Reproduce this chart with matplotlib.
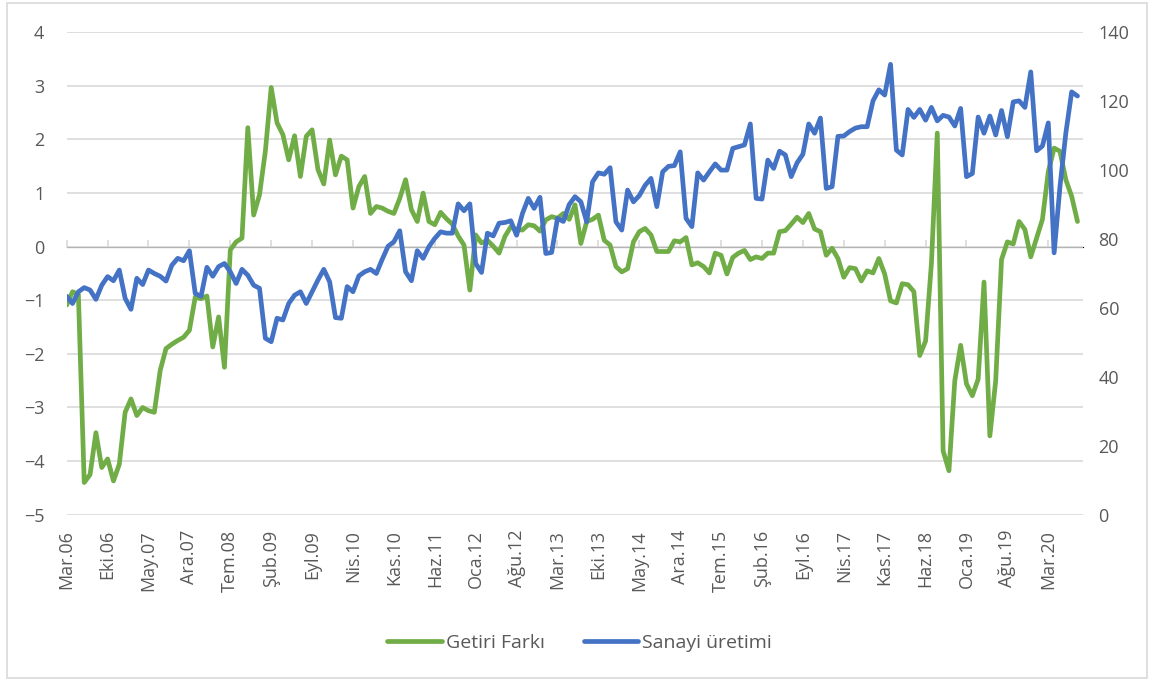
import numpy as np
import matplotlib.pyplot as plt
from matplotlib.patches import Rectangle

plt.rcParams['font.family'] = ['Open Sans', 'DejaVu Sans']

# aylik seriler, Mar.06'dan itibaren
getiri_farki = [
    -1.09, -0.84, -0.89, -4.40, -4.25, -3.47, -4.12, -3.96, -4.37, -4.06,
    -3.09, -2.84, -3.15, -3.00, -3.06, -3.09, -2.31, -1.90, -1.82, -1.75,
    -1.69, -1.56, -0.94, -0.97, -0.92, -1.87, -1.31, -2.25, -0.06, 0.09,
    0.16, 2.22, 0.59, 0.97, 1.78, 2.97, 2.31, 2.09, 1.62, 2.07,
    1.31, 2.06, 2.18, 1.44, 1.17, 1.99, 1.34, 1.69, 1.62, 0.72,
    1.12, 1.31, 0.62, 0.75, 0.72, 0.66, 0.62, 0.90, 1.25, 0.69,
    0.47, 1.00, 0.47, 0.41, 0.64, 0.52, 0.42, 0.20, 0.03, -0.81,
    0.22, 0.07, 0.12, 0.01, -0.12, 0.19, 0.37, 0.32, 0.31, 0.41,
    0.39, 0.29, 0.50, 0.56, 0.53, 0.62, 0.51, 0.78, 0.06, 0.47,
    0.51, 0.59, 0.12, 0.03, -0.37, -0.47, -0.41, 0.09, 0.28, 0.34,
    0.22, -0.09, -0.09, -0.09, 0.11, 0.09, 0.17, -0.34, -0.30, -0.37,
    -0.49, -0.12, -0.16, -0.51, -0.20, -0.12, -0.07, -0.24, -0.19, -0.22,
    -0.12, -0.12, 0.28, 0.30, 0.42, 0.55, 0.45, 0.62, 0.33, 0.28,
    -0.16, -0.03, -0.22, -0.57, -0.39, -0.41, -0.64, -0.45, -0.49, -0.22,
    -0.51, -1.01, -1.05, -0.69, -0.71, -0.84, -2.03, -1.76, -0.31, 2.12,
    -3.81, -4.18, -2.50, -1.84, -2.56, -2.78, -2.47, -0.66, -3.53, -2.50,
    -0.24, 0.09, 0.05, 0.47, 0.32, -0.19, 0.16, 0.51, 1.40, 1.84,
    1.78, 1.25, 0.94, 0.47,
]

sanayi_uretimi = [
    63.4, 61.3, 64.7, 65.9, 65.2, 62.5, 66.6, 69.1, 67.9, 71.0,
    62.8, 59.6, 68.6, 66.8, 71.0, 70.0, 69.2, 67.8, 72.4, 74.4,
    73.7, 76.6, 64.2, 63.4, 71.8, 69.2, 72.0, 72.9, 70.5, 67.1,
    71.2, 69.5, 66.6, 65.7, 51.2, 50.2, 57.0, 56.5, 61.3, 63.7,
    64.7, 61.3, 64.7, 68.1, 71.2, 67.6, 57.2, 57.0, 66.2, 64.7,
    69.3, 70.5, 71.2, 70.0, 74.1, 77.9, 79.2, 82.4, 70.5, 67.9,
    76.6, 74.4, 77.8, 80.2, 82.1, 81.7, 81.7, 90.2, 88.2, 90.2,
    72.9, 70.3, 81.7, 80.9, 84.6, 84.8, 85.3, 81.1, 87.4, 91.8,
    88.9, 92.1, 75.8, 76.1, 86.0, 85.1, 90.0, 92.3, 90.8, 85.0,
    96.6, 99.2, 98.8, 100.7, 85.0, 82.6, 94.2, 90.8, 92.6, 95.6,
    97.6, 89.4, 99.5, 101.1, 101.3, 105.3, 86.0, 83.6, 99.2, 97.1,
    99.5, 101.8, 100.0, 100.0, 106.3, 106.8, 107.3, 113.4, 91.8, 91.6,
    102.9, 100.5, 105.5, 104.4, 98.1, 102.1, 104.6, 113.4, 110.7, 115.1,
    94.7, 95.2, 109.8, 109.9, 111.2, 112.2, 112.6, 112.6, 120.1, 123.3,
    121.8, 130.7, 105.8, 104.4, 117.6, 115.3, 117.6, 114.5, 118.2, 114.3,
    115.9, 115.4, 112.8, 117.9, 98.1, 99.0, 115.4, 110.7, 115.7, 110.2,
    117.3, 109.7, 119.8, 120.1, 118.2, 128.5, 105.6, 107.0, 113.7, 76.0,
    95.2, 110.7, 122.7, 121.5,
]

x_etiketleri = [
    "Mar.06", "Eki.06", "May.07", "Ara.07", "Tem.08", "Şub.09", "Eyl.09",
    "Nis.10", "Kas.10", "Haz.11", "Oca.12", "Ağu.12", "Mar.13", "Eki.13",
    "May.14", "Ara.14", "Tem.15", "Şub.16", "Eyl.16", "Nis.17", "Kas.17",
    "Haz.18", "Oca.19", "Ağu.19", "Mar.20",
]
etiket_araligi = 7
n_kategori = 175

YESIL = '#70AD47'
MAVI = '#4472C4'
GRI_YAZI = '#595959'
GRI_CIZGI = '#D9D9D9'
FS = 13

fig = plt.figure(figsize=(11.52, 6.81), dpi=100)
ax = fig.add_axes([0.0579, 0.2442, 0.8825, 0.7084])
ax2 = ax.twinx()

x = np.arange(len(getiri_farki))
l1, = ax.plot(x, getiri_farki, color=YESIL, lw=3.4, solid_joinstyle='round',
              solid_capstyle='round', label='Getiri Farkı')
l2, = ax2.plot(x, sanayi_uretimi, color=MAVI, lw=3.4, solid_joinstyle='round',
               solid_capstyle='round', label='Sanayi üretimi')

ax.set_xlim(0, n_kategori - 1)
ax.set_ylim(-5, 4)
ax.set_yticks(range(-5, 5))
ax2.set_ylim(0, 140)
ax2.set_yticks(range(0, 141, 20))

ax.grid(axis='y', color=GRI_CIZGI, lw=1.2)
ax.set_axisbelow(True)
for a in (ax, ax2):
    for s in a.spines.values():
        s.set_visible(False)

tick_pos = np.arange(0, n_kategori, etiket_araligi)[:len(x_etiketleri)]
ax.set_xticks(tick_pos)
ax.set_xticklabels(x_etiketleri, rotation=90, va='top', ha='center')
ax.tick_params(axis='x', length=0, pad=11, labelsize=FS, labelcolor=GRI_YAZI)
ax.tick_params(axis='y', length=0, pad=16, labelsize=FS, labelcolor=GRI_YAZI)
ax2.tick_params(axis='y', length=0, pad=11, labelsize=FS, labelcolor=GRI_YAZI)

# kategori ekseni 0 cizgisinde, tik isaretleri asagi dogru
sec = ax.secondary_xaxis(5 / 9)
sec.set_xticks(np.arange(0, n_kategori, etiket_araligi))
sec.set_xticklabels([])
sec.tick_params(axis='x', direction='out', length=5, width=1.2, color=GRI_CIZGI)
sec.spines['bottom'].set_color(GRI_CIZGI)
sec.spines['bottom'].set_linewidth(1.2)

fig.legend(handles=[l1, l2], loc='center', bbox_to_anchor=(0.503, 0.056),
           ncol=2, frameon=False, fontsize=14, labelcolor=GRI_YAZI,
           handlelength=2.8, handletextpad=0.2, columnspacing=2.0)

fig.patches.append(Rectangle((0.006, 0.004), 0.99, 0.992, transform=fig.transFigure,
                             fill=False, edgecolor=GRI_CIZGI, lw=1.2))

fig.savefig('out.png', dpi=100)
